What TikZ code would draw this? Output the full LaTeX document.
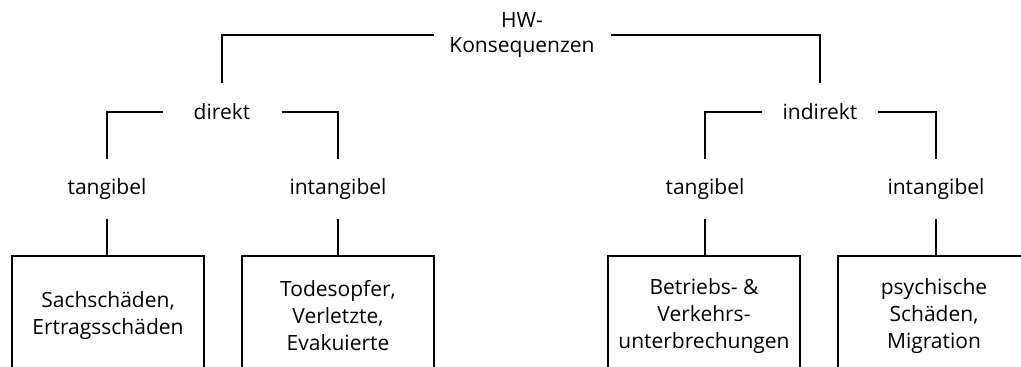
\documentclass[tikz,border=0pt]{standalone}
\usepackage{fontspec}
\setmainfont{Open Sans}
\begin{document}
\begin{tikzpicture}[x=1pt,y=-1pt,
  lbl/.style={font=\fontsize{21}{25}\selectfont, align=center, inner sep=0pt, outer sep=0pt, minimum height=60pt, text=black},
  leaf/.style={draw, line width=1.4pt, font=\fontsize{21}{27}\selectfont, align=center, minimum width=192pt, minimum height=120pt, inner sep=0pt, outer sep=0pt, text=black},
  conn/.style={line width=1.4pt}]
\useasboundingbox (0,0) rectangle (1021,367);
\begin{scope}
\clip (0,0) rectangle (1021,367);
% top
\node[lbl, minimum width=177pt, minimum height=96pt] (hw) at (522,35) {HW-\\Konsequenzen};
% level 2
\node[lbl, minimum width=119pt, minimum height=58pt] (dir) at (222,112) {direkt};
\node[lbl, minimum width=116pt, minimum height=58pt] (ind) at (820,112) {indirekt};
% level 3
\node[lbl] (dt) at (107,189) {tangibel};
\node[lbl] (di) at (338,189) {intangibel};
\node[lbl] (it) at (705,189) {tangibel};
\node[lbl] (ii) at (936,189) {intangibel};
% leaves
\node[leaf] (l1) at (108,316) {Sachschäden,\\Ertragsschäden};
\node[leaf] (l2) at (338,316) {Todesopfer,\\Verletzte,\\Evakuierte};
\node[leaf] (l3) at (704,316) {Betriebs- \&\\Verkehrs-\\unterbrechungen};
\node[leaf] (l4) at (934,316) {psychische\\Schäden,\\Migration};
% connectors
\draw[conn] (hw.west) -| (dir.north);
\draw[conn] (hw.east) -| (ind.north);
\draw[conn] (dir.west) -| (dt.north);
\draw[conn] (dir.east) -| (di.north);
\draw[conn] (ind.west) -| (it.north);
\draw[conn] (ind.east) -| (ii.north);
\draw[conn] (dt.south) -- (dt.south |- l1.north);
\draw[conn] (di.south) -- (di.south |- l2.north);
\draw[conn] (it.south) -- (it.south |- l3.north);
\draw[conn] (ii.south) -- (ii.south |- l4.north);
\end{scope}
\end{tikzpicture}
\end{document}
